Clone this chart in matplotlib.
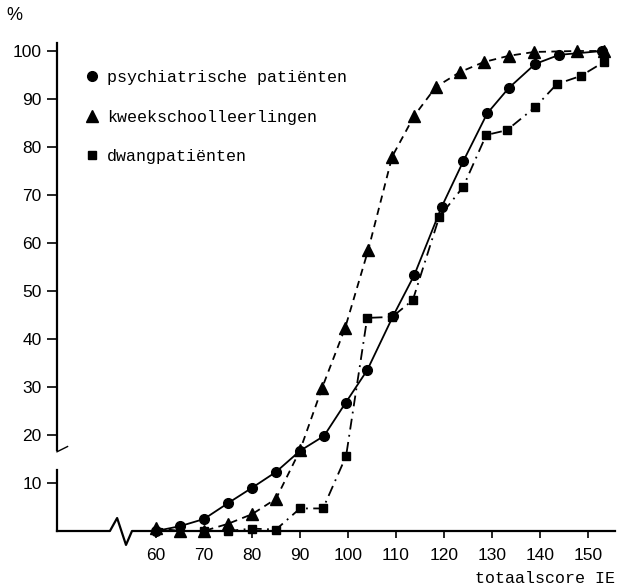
import matplotlib
matplotlib.use('Agg')
from matplotlib import pyplot as plt
from matplotlib.lines import Line2D

# psychiatrische patiënten (cirkels, doorgetrokken lijn)
psy_x = [60, 65, 70, 75, 80, 85, 90, 95, 99.5, 104, 109.4, 113.8, 119.5, 124, 129, 133.5, 139, 144, 153]
psy_y = [0, 1, 2.5, 5.8, 9, 12.3, 16.7, 19.8, 26.7, 33.5, 44.8, 53.3, 67.5, 77, 87, 92.3, 97.3, 99.2, 100]

# kweekschoolleerlingen (driehoeken, gestreept)
kws_x = [60, 65, 70, 75, 80, 85, 90, 94.6, 99.4, 104.2, 109.2, 113.8, 118.3, 123.3, 128.3, 133.5, 138.8, 147.7, 153.3]
kws_y = [0.6, 0, 0, 1.5, 3.5, 6.7, 16.8, 29.8, 42.3, 58.5, 78, 86.5, 92.5, 95.6, 97.7, 99, 99.8, 100, 100]

# dwangpatiënten (vierkanten, streep-punt)
dwa_x = [70, 75, 80, 85, 90, 94.8, 99.6, 104, 109.2, 113.5, 119, 124, 128.8, 133.1, 139, 143.5, 148.5, 153.3]
dwa_y = [0, 0, 0.5, 0.3, 4.7, 4.7, 15.6, 44.4, 44.6, 48.1, 65.4, 71.7, 82.5, 83.5, 88.3, 93.1, 94.8, 97.7]

labels = ['psychiatrische patiënten', 'kweekschoolleerlingen', 'dwangpatiënten']
xticks = [60, 70, 80, 90, 100, 110, 120, 130, 140, 150]
yticks = [10, 20, 30, 40, 50, 60, 70, 80, 90, 100]

W, H = 618, 588
fig = plt.figure(figsize=(W / 100, H / 100), dpi=100)
ax = fig.add_axes([57 / W, (H - 531) / H, (615 - 57) / W, (531 - 43) / H])
ax.set_xlim(100 + (57 - 348) / 4.8, 100 + (615 - 348) / 4.8)
ax.set_ylim(0, (531 - 43) / 4.8)

ax.plot(psy_x, psy_y, color='black', lw=1.3, marker='o', ms=7, clip_on=False)
ax.plot(kws_x, kws_y, color='black', lw=1.3, ls=(0, (4, 3)), marker='^', ms=8, clip_on=False)
ax.plot(dwa_x, dwa_y, color='black', lw=1.3, ls=(0, (6, 3, 1, 3)), marker='s', ms=6, clip_on=False)

for s in ax.spines.values():
    s.set_visible(False)

# assen met onderbreking
x0 = ax.get_xlim()[0]
x1 = ax.get_xlim()[1]
ax.plot([x0, 50.4, 51.9, 53.75, 55, x1], [0, 0, 2.7, -2.9, 0, 0],
        color='black', lw=1.6, clip_on=False)
ax.plot([x0, x0], [0, 12.7], color='black', lw=1.6, clip_on=False)
ax.plot([x0, x0], [16.9, ax.get_ylim()[1]], color='black', lw=1.6, clip_on=False)
ax.plot([x0, x0 + 2.2], [16.5, 17.6], color='black', lw=1.0, clip_on=False)

ax.set_xticks(xticks)
ax.set_yticks(yticks)
ax.tick_params(axis='x', direction='out', length=5, width=1.2, pad=7)
ax.tick_params(axis='y', direction='out', length=7, width=1.2, pad=4)
for t in ax.get_xticklabels() + ax.get_yticklabels():
    t.set_fontfamily('Liberation Sans')
    t.set_fontsize(12.5)

ax.set_xlabel('totaalscore IE', loc='right', fontfamily='Liberation Mono',
              fontsize=12, labelpad=6)
fig.text(14 / W, 1 - 15 / H, '%', fontfamily='Liberation Sans', fontsize=13,
         ha='center', va='center')

handles = [Line2D([], [], color='black', ls='none', marker='o', ms=7),
           Line2D([], [], color='black', ls='none', marker='^', ms=8),
           Line2D([], [], color='black', ls='none', marker='s', ms=6)]
ax.legend(handles, labels, loc='upper left', bbox_to_anchor=(84 / W, 1 - 70 / H),
          bbox_transform=fig.transFigure, frameon=False, borderpad=0,
          borderaxespad=0, handlelength=1, handletextpad=0.4, labelspacing=1.48,
          prop={'family': 'Liberation Mono', 'size': 12})

fig.savefig('out.png', dpi=100)
